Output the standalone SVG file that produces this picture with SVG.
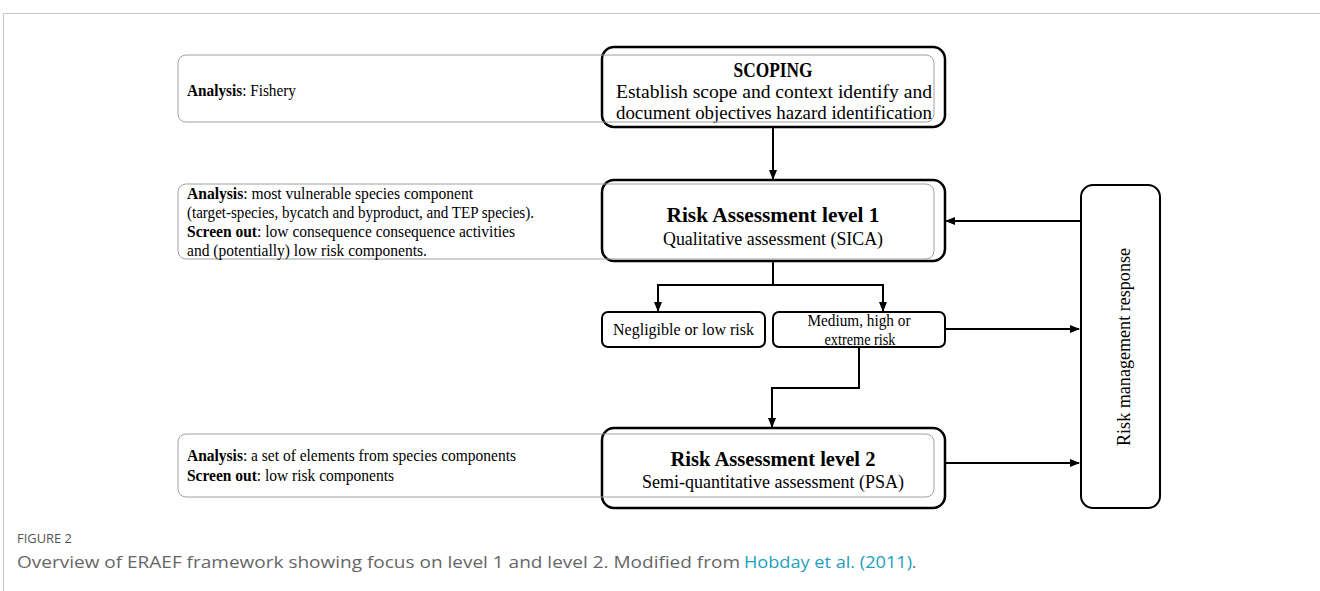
<svg xmlns="http://www.w3.org/2000/svg" width="1320" height="591" viewBox="0 0 1320 591">
<style>
.frame{fill:none;stroke:#c8c8c8;stroke-width:1}
.grey{fill:none;stroke:#a0a0a0;stroke-width:1}
.main{fill:#fff;stroke:#000;stroke-width:2.5}
.small{fill:#fff;stroke:#000;stroke-width:2}
.conn{fill:none;stroke:#000;stroke-width:2}
.t{font-family:"Liberation Serif","Times New Roman",serif;fill:#000}
.note{font-size:16px}
.title{font-size:21px;font-weight:bold}
.sub{font-size:18px}
.cap{font-family:"Open Sans","Noto Sans",sans-serif;fill:#666}
.capHead{fill:#555}
.link{fill:#1a9fc0}
</style>
<defs>
<marker id="arr" viewBox="0 0 10 10" refX="9" refY="5" markerWidth="5" markerHeight="5" orient="auto" markerUnits="strokeWidth">
<path d="M0,1 L10,5 L0,9 z" fill="#000"/>
</marker>
</defs>
<path class="frame" d="M3.5,591 V13.5 H1320"/>

<g id="connectors">
<line class="conn" x1="773" y1="127" x2="773" y2="179" marker-end="url(#arr)"/>
<path class="conn" d="M773,262 V285 M658,285 H883"/>
<line class="conn" x1="658" y1="284" x2="658" y2="311" marker-end="url(#arr)"/>
<line class="conn" x1="883" y1="284" x2="883" y2="311" marker-end="url(#arr)"/>
<line class="conn" x1="945" y1="329" x2="1079" y2="329" marker-end="url(#arr)"/>
<path class="conn" d="M859,347 V388 H772 V427" marker-end="url(#arr)"/>
<line class="conn" x1="945" y1="463" x2="1079" y2="463" marker-end="url(#arr)"/>
<line class="conn" x1="1081" y1="221" x2="946" y2="221" marker-end="url(#arr)"/>
</g>

<g id="scoping">
<rect class="main" x="602" y="47" width="343" height="80" rx="12"/>
<text class="t title" x="773" y="77" text-anchor="middle" textLength="79" lengthAdjust="spacingAndGlyphs">SCOPING</text>
<text class="t sub" x="616" y="98" textLength="316" lengthAdjust="spacingAndGlyphs">Establish scope and context identify and</text>
<text class="t sub" x="616" y="119" textLength="316" lengthAdjust="spacingAndGlyphs">document objectives  hazard identification</text>
</g>
<g id="note-scoping">
<rect class="grey" x="178" y="55" width="756" height="67" rx="8"/>
<text class="t note" x="187" y="96" textLength="109" lengthAdjust="spacingAndGlyphs"><tspan font-weight="bold">Analysis</tspan>: Fishery</text>
</g>

<g id="level1">
<rect class="main" x="602" y="180" width="343" height="81" rx="12"/>
<text class="t title" x="773" y="222" text-anchor="middle" textLength="213" lengthAdjust="spacingAndGlyphs">Risk Assessment level 1</text>
<text class="t sub" x="773" y="245" text-anchor="middle" textLength="220" lengthAdjust="spacingAndGlyphs">Qualitative assessment (SICA)</text>
</g>
<g id="note-level1">
<rect class="grey" x="178" y="184" width="756" height="75" rx="8"/>
<text class="t note" x="187" y="199" textLength="286" lengthAdjust="spacingAndGlyphs"><tspan font-weight="bold">Analysis</tspan>: most vulnerable species component</text>
<text class="t note" x="187" y="218" textLength="347" lengthAdjust="spacingAndGlyphs">(target-species, bycatch and byproduct, and TEP species).</text>
<text class="t note" x="187" y="237" textLength="328" lengthAdjust="spacingAndGlyphs"><tspan font-weight="bold">Screen out</tspan>: low consequence consequence activities</text>
<text class="t note" x="187" y="256" textLength="240" lengthAdjust="spacingAndGlyphs">and (potentially) low risk components.</text>
</g>

<g id="low-risk">
<rect class="small" x="602" y="312" width="163" height="35" rx="6"/>
<text class="t note" x="683.5" y="335" text-anchor="middle" textLength="141" lengthAdjust="spacingAndGlyphs">Negligible or low risk</text>
</g>
<g id="high-risk">
<rect class="small" x="773" y="312" width="172" height="35" rx="6"/>
<text class="t note" x="859" y="326" text-anchor="middle" textLength="103" lengthAdjust="spacingAndGlyphs">Medium, high or</text>
<text class="t note" x="860" y="345" text-anchor="middle" textLength="71" lengthAdjust="spacingAndGlyphs">extreme risk</text>
</g>

<g id="level2">
<rect class="main" x="602" y="428" width="343" height="80" rx="12"/>
<text class="t title" x="773" y="466" text-anchor="middle" textLength="205" lengthAdjust="spacingAndGlyphs">Risk Assessment level 2</text>
<text class="t sub" x="773" y="488" text-anchor="middle" textLength="262" lengthAdjust="spacingAndGlyphs">Semi-quantitative assessment (PSA)</text>
</g>
<g id="note-level2">
<rect class="grey" x="178" y="434" width="756" height="63" rx="8"/>
<text class="t note" x="187" y="461" textLength="329" lengthAdjust="spacingAndGlyphs"><tspan font-weight="bold">Analysis</tspan>: a set of elements from species components</text>
<text class="t note" x="187" y="481" textLength="207" lengthAdjust="spacingAndGlyphs"><tspan font-weight="bold">Screen out</tspan>: low risk components</text>
</g>

<g id="response">
<rect class="small" x="1081" y="185" width="79" height="323" rx="12"/>
<text class="t sub" transform="translate(1130,347) rotate(-90)" text-anchor="middle" textLength="198" lengthAdjust="spacingAndGlyphs">Risk management response</text>
</g>

<g id="caption">
<text class="cap capHead" x="17" y="543" font-size="13" textLength="55" lengthAdjust="spacingAndGlyphs">FIGURE 2</text>
<text class="cap" x="17" y="568" font-size="16" textLength="723" lengthAdjust="spacingAndGlyphs">Overview of ERAEF framework showing focus on level 1 and level 2. Modified from</text>
<text class="cap link" x="744" y="568" font-size="16" textLength="168" lengthAdjust="spacingAndGlyphs">Hobday et al. (2011)</text>
<text class="cap" x="912" y="568" font-size="16">.</text>
</g>
</svg>
